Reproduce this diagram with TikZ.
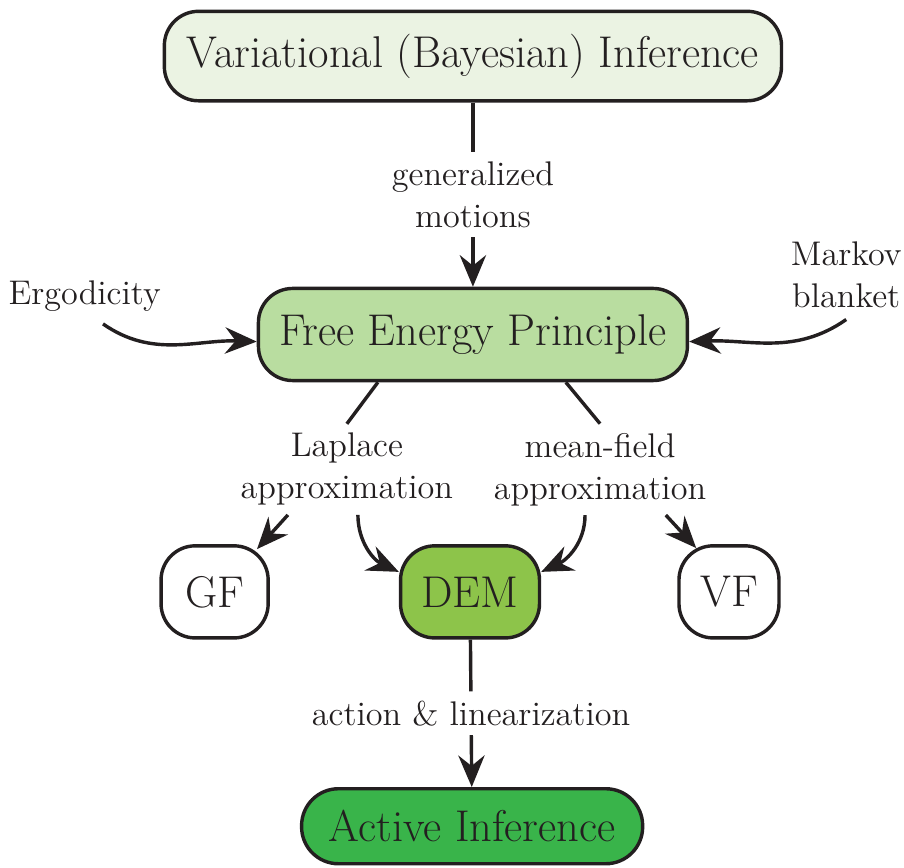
\documentclass[tikz,border=0pt]{standalone}
\usepackage{tikz}
\usetikzlibrary{positioning,arrows.meta,calc}
\definecolor{ink}{RGB}{35,31,32}
\definecolor{vbifill}{RGB}{235,243,227}
\definecolor{fepfill}{RGB}{185,221,160}
\definecolor{demfill}{RGB}{141,196,74}
\definecolor{actfill}{RGB}{57,180,74}

\begin{document}
\begin{tikzpicture}[
    box/.style={draw=ink, rounded corners=13pt, line width=1.3pt, minimum height=35pt,
                inner xsep=6pt, inner ysep=3pt, font=\fontsize{16.9}{20}\selectfont, text=ink, fill=#1},
    box/.default=white,
    arrow/.style={-{Stealth[length=12pt, width=10pt, inset=4pt]}, line width=1.3pt, draw=ink},
    link/.style={line width=1.3pt, draw=ink},
    note/.style={font=\fontsize{13}{16}\selectfont, text=ink, align=center},
  ]
  \useasboundingbox (-179.7pt,21.3pt) rectangle (163.8pt,-308.2pt);

  % Boxes
  \node[box=vbifill, minimum width=234.5pt, minimum height=34pt] (vbi) at (0,0) {Variational (Bayesian) Inference};
  \node[box=fepfill, minimum width=163pt, below=70pt of vbi] (fep) {Free Energy Principle};
  \node[box=demfill, minimum width=52.8pt, below=61.5pt of fep, xshift=-1.1pt] (dem) {DEM};
  \node[box, minimum width=40.7pt, left=49pt of dem] (gf) {GF};
  \node[box, minimum width=38pt, right=51.7pt of dem] (vf) {VF};
  \node[box=actfill, minimum width=129.6pt, minimum height=28.5pt, rounded corners=14pt,
        below=56pt of dem, xshift=0.8pt] (act) {Active Inference};

  % Labels
  \node[note] (gm) at ($(vbi.south)!0.5!(fep.north)$) {generalized\\motions};
  \node[note] (ergo) at ($(fep.west)+(-65.4pt,14.4pt)$) {Ergodicity};
  \node[note] (mb) at ($(fep.east)+(59.7pt,22.8pt)$) {Markov\\blanket};
  \node[note] (lap) at ($(fep.south)+(-47.9pt,-33.1pt)$) {Laplace\\approximation};
  \node[note] (mf) at ($(fep.south)+(48.3pt,-33.1pt)$) {mean-field\\approximation};
  \node[note] (al) at ($(dem.south)!0.5!(act.north)$) {action \& linearization};

  % Connectors
  \draw[link] (vbi) -- (gm);
  \draw[arrow] (gm) -- (fep);
  \draw[arrow] ([xshift=7pt,yshift=-1pt]ergo.south) to[out=-35, in=178] ([yshift=-2.7pt]fep.west);
  \draw[arrow] ([yshift=-1pt]mb.south) to[out=-145, in=2] ([yshift=-2.7pt]fep.east);
  \draw[link] ([xshift=-36.1pt]fep.south) -- (lap.north);
  \draw[link] ([xshift=35.3pt]fep.south) -- (mf.north);
  \draw[arrow] ([xshift=-22.4pt]lap.south) -- ([shift={(-4.9pt,-1.9pt)}]gf.north east);
  \draw[arrow] ([xshift=4.2pt]lap.south) to[out=-90, in=155] ([yshift=7.6pt]dem.west);
  \draw[arrow] ([xshift=-5.7pt]mf.south) to[out=-90, in=25] ([yshift=7.6pt]dem.east);
  \draw[arrow] ([xshift=25pt]mf.south) -- ([shift={(7.2pt,-1.5pt)}]vf.north west);
  \draw[link] (dem) -- (al);
  \draw[arrow] (al) -- (act);

\end{tikzpicture}
\end{document}
